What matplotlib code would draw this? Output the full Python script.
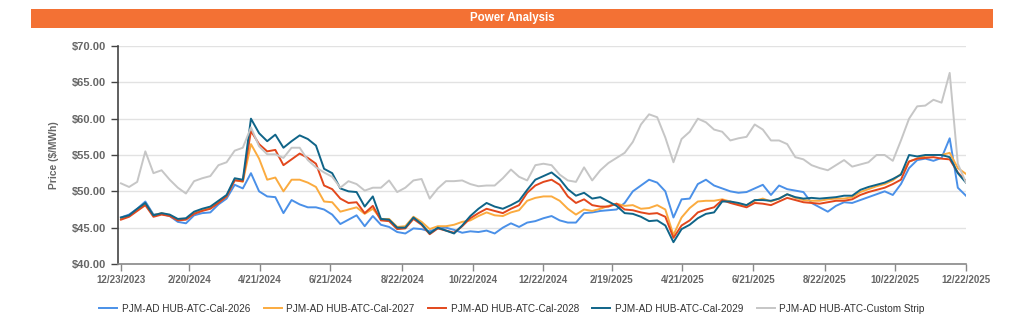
import pandas as pd
import matplotlib
matplotlib.use('Agg')
import matplotlib.pyplot as plt
from matplotlib.patches import Rectangle
from matplotlib.ticker import FuncFormatter

plt.rcParams['font.family'] = ['Liberation Sans', 'DejaVu Sans']

# weekly samples, 12/23/2023 .. 12/22/2025
dates = pd.date_range('2023-12-23', '2025-12-22', periods=105)

cal_2026 = [46.4, 46.8, 47.6, 48.6, 46.8, 46.9, 46.6, 45.8, 45.6, 46.7, 47.0, 47.1, 48.2, 49.0, 50.9,
            50.4, 52.5, 50.0, 49.3, 49.2, 47.0, 48.8, 48.2, 47.8, 47.8, 47.5, 46.8, 45.5, 46.1, 46.7, 45.2,
            46.6, 45.4, 45.1, 44.4, 44.2, 44.9, 44.8, 44.5, 44.9, 45.0, 44.7, 44.3, 44.5, 44.4, 44.6,
            44.2, 45.0, 45.6, 45.1, 45.7, 45.9, 46.3, 46.6, 46.0, 45.7, 45.7, 47.0, 47.1, 47.3, 47.4,
            47.5, 48.4, 50.0, 50.8, 51.6, 51.2, 50.0, 46.4, 48.9, 49.0, 51.0, 51.6, 50.8, 50.4, 50.0,
            49.8, 49.9, 50.4, 50.9, 49.5, 50.8, 50.3, 50.1, 49.9, 48.4, 47.8, 47.2, 48.0, 48.5, 48.4,
            48.8, 49.2, 49.6, 50.0, 49.5, 51.0, 53.2, 54.3, 54.5, 54.2, 54.6, 57.3, 50.5, 49.4]

cal_2027 = [46.3, 46.6, 47.5, 48.3, 46.7, 47.0, 46.7, 46.1, 46.2, 47.0, 47.4, 47.7, 48.5, 49.3, 51.6,
            51.3, 56.5, 54.5, 51.6, 51.9, 50.0, 51.6, 51.6, 51.2, 50.6, 48.6, 48.5, 47.2, 47.5, 47.8, 46.9,
            47.6, 46.2, 46.2, 45.1, 45.2, 46.5, 45.8, 44.8, 45.2, 45.2, 45.4, 45.8, 46.0, 46.6, 47.1,
            46.7, 46.6, 47.1, 47.4, 48.7, 49.1, 49.3, 49.3, 48.7, 47.6, 46.8, 47.5, 47.3, 47.6, 48.0,
            48.3, 48.0, 48.1, 47.6, 47.7, 48.1, 47.5, 44.0, 46.4, 47.7, 48.6, 48.7, 48.7, 48.9, 48.6,
            48.2, 48.1, 48.7, 49.0, 48.6, 49.0, 49.6, 49.1, 48.8, 48.7, 48.7, 48.9, 49.0, 49.0, 49.2,
            49.9, 50.3, 50.7, 51.0, 51.5, 52.4, 54.1, 54.5, 54.9, 55.0, 55.0, 55.3, 53.2, 52.4]

cal_2028 = [46.1, 46.5, 47.3, 48.1, 46.5, 46.8, 46.6, 46.0, 46.1, 46.9, 47.3, 47.6, 48.4, 49.3, 51.5,
            51.4, 58.3, 56.5, 55.5, 55.7, 53.6, 54.4, 55.2, 54.6, 53.8, 50.8, 50.3, 49.0, 48.4, 48.5, 47.0,
            48.0, 46.0, 45.9, 44.8, 44.9, 46.2, 45.4, 44.1, 44.9, 44.6, 44.3, 45.2, 46.3, 47.0, 47.6,
            47.3, 47.0, 47.6, 48.1, 49.8, 50.8, 51.3, 51.6, 50.9, 49.3, 48.4, 48.9, 48.1, 47.9, 47.9,
            48.3, 47.5, 47.4, 47.1, 46.9, 47.0, 46.5, 43.6, 45.3, 46.0, 47.1, 47.5, 47.8, 48.8, 48.4,
            48.1, 47.8, 48.4, 48.3, 48.1, 48.6, 49.1, 48.8, 48.5, 48.4, 48.3, 48.5, 48.7, 48.7, 48.9,
            49.5, 49.9, 50.2, 50.5, 51.0, 51.6, 54.1, 54.5, 54.6, 54.7, 54.5, 54.4, 52.6, 51.4]

cal_2029 = [46.4, 46.7, 47.6, 48.4, 46.7, 47.0, 46.8, 46.2, 46.3, 47.2, 47.6, 47.9, 48.7, 49.5, 51.8,
            51.6, 60.0, 58.0, 56.9, 57.8, 56.0, 56.9, 57.7, 57.2, 56.3, 53.1, 52.5, 50.4, 50.0, 49.9, 47.9,
            49.3, 46.2, 46.1, 45.0, 45.0, 46.4, 45.5, 44.2, 45.0, 44.6, 44.2, 45.3, 46.6, 47.6, 48.4,
            47.9, 47.6, 48.1, 48.7, 50.2, 51.6, 52.1, 52.6, 51.7, 50.3, 49.4, 49.8, 49.0, 49.2, 48.6,
            48.0, 47.0, 46.9, 46.5, 45.9, 46.0, 45.3, 43.0, 44.8, 45.4, 46.3, 46.9, 47.1, 48.6, 48.6,
            48.4, 48.1, 48.8, 48.8, 48.7, 49.0, 49.6, 49.2, 49.0, 49.1, 49.0, 49.1, 49.2, 49.4, 49.4,
            50.2, 50.6, 50.9, 51.2, 51.7, 52.3, 55.0, 54.8, 55.0, 55.0, 55.0, 54.7, 52.5, 51.2]

custom_strip = [51.1, 50.6, 51.3, 55.5, 52.5, 52.9, 51.6, 50.5, 49.7, 51.4, 51.8, 52.1, 53.6, 54.0, 55.6,
                56.0, 58.8, 56.2, 55.1, 55.1, 54.6, 56.0, 56.0, 54.3, 53.3, 52.6, 52.0, 50.5, 51.4, 51.0, 50.1,
                50.5, 50.5, 51.5, 49.9, 50.5, 51.5, 51.7, 49.0, 50.4, 51.4, 51.4, 51.5, 51.0, 50.7, 50.8,
                50.8, 51.8, 53.0, 52.0, 51.5, 53.6, 53.8, 53.6, 52.3, 51.5, 51.3, 53.3, 51.5, 52.9, 53.9,
                54.6, 55.3, 56.8, 59.2, 60.6, 60.2, 57.4, 54.0, 57.2, 58.2, 60.0, 59.5, 58.5, 58.2, 57.0,
                57.3, 57.5, 59.2, 58.5, 57.0, 57.0, 56.5, 54.7, 54.4, 53.6, 53.2, 52.9, 53.6, 54.3, 53.4,
                53.7, 54.0, 55.0, 55.0, 54.2, 57.0, 60.0, 61.7, 61.8, 62.6, 62.2, 66.3, 53.8, 51.2]

series_names = ['PJM-AD HUB-ATC-Cal-2026', 'PJM-AD HUB-ATC-Cal-2027', 'PJM-AD HUB-ATC-Cal-2028',
                'PJM-AD HUB-ATC-Cal-2029', 'PJM-AD HUB-ATC-Custom Strip']
series_values = [cal_2026, cal_2027, cal_2028, cal_2029, custom_strip]
colors = ['#4a90e8', '#fbab3f', '#e2471c', '#0f6488', '#c6c6c6']

tick_labels = ['12/23/2023', '2/20/2024', '4/21/2024', '6/21/2024', '8/22/2024', '10/22/2024',
               '12/22/2024', '2/19/2025', '4/21/2025', '6/21/2025', '8/22/2025', '10/22/2025', '12/22/2025']

fig = plt.figure(figsize=(10.24, 3.3), dpi=100)

# orange title bar
fig.patches.append(Rectangle((0.0303, 0.915), 0.9394, 0.058, transform=fig.transFigure,
                             facecolor='#f37134', edgecolor='none'))
fig.text(0.5, 0.944, 'Power Analysis', color='white', fontsize=8.3, fontweight='bold',
         ha='center', va='center')

ax = fig.add_axes([0.1152, 0.2, 0.8281, 0.6606])

for name, vals, c in zip(series_names, series_values, colors):
    ax.plot(dates, vals, color=c, lw=1.4, label=name)

ax.set_ylim(40, 70)
ax.set_yticks([40, 45, 50, 55, 60, 65, 70])
ax.yaxis.set_major_formatter(FuncFormatter(lambda v, p: '${:.2f}'.format(v)))
ax.set_xlim(pd.Timestamp('2023-12-20 10:00'), pd.Timestamp('2025-12-22'))
ax.set_xticks(pd.to_datetime(tick_labels, format='%m/%d/%Y'))
ax.set_xticklabels(tick_labels)

ax.grid(axis='y', color='#e2e2e2', lw=1)
ax.set_axisbelow(True)
for s in ['top', 'right']:
    ax.spines[s].set_visible(False)
ax.spines['left'].set_color('#444444')
ax.spines['left'].set_linewidth(1.2)
ax.spines['bottom'].set_color('#888888')
ax.spines['bottom'].set_linewidth(1.2)

ax.tick_params(axis='y', colors='#444444', labelcolor='#666666', labelsize=8, length=5, width=1)
ax.tick_params(axis='x', colors='#888888', labelcolor='#666666', labelsize=7, length=5, width=1, pad=3)
for lbl in ax.get_xticklabels() + ax.get_yticklabels():
    lbl.set_fontweight('bold')

ax.set_ylabel('Price ($/MWh)', fontsize=7.4, fontweight='bold', color='#666666', labelpad=9)

fig.legend(loc='center', bbox_to_anchor=(0.5, 0.065), ncol=5, frameon=False, fontsize=7.2,
           handlelength=1.8, handletextpad=0.45, columnspacing=1.35, labelcolor='#333333')

plt.savefig('out.png', dpi=100)
